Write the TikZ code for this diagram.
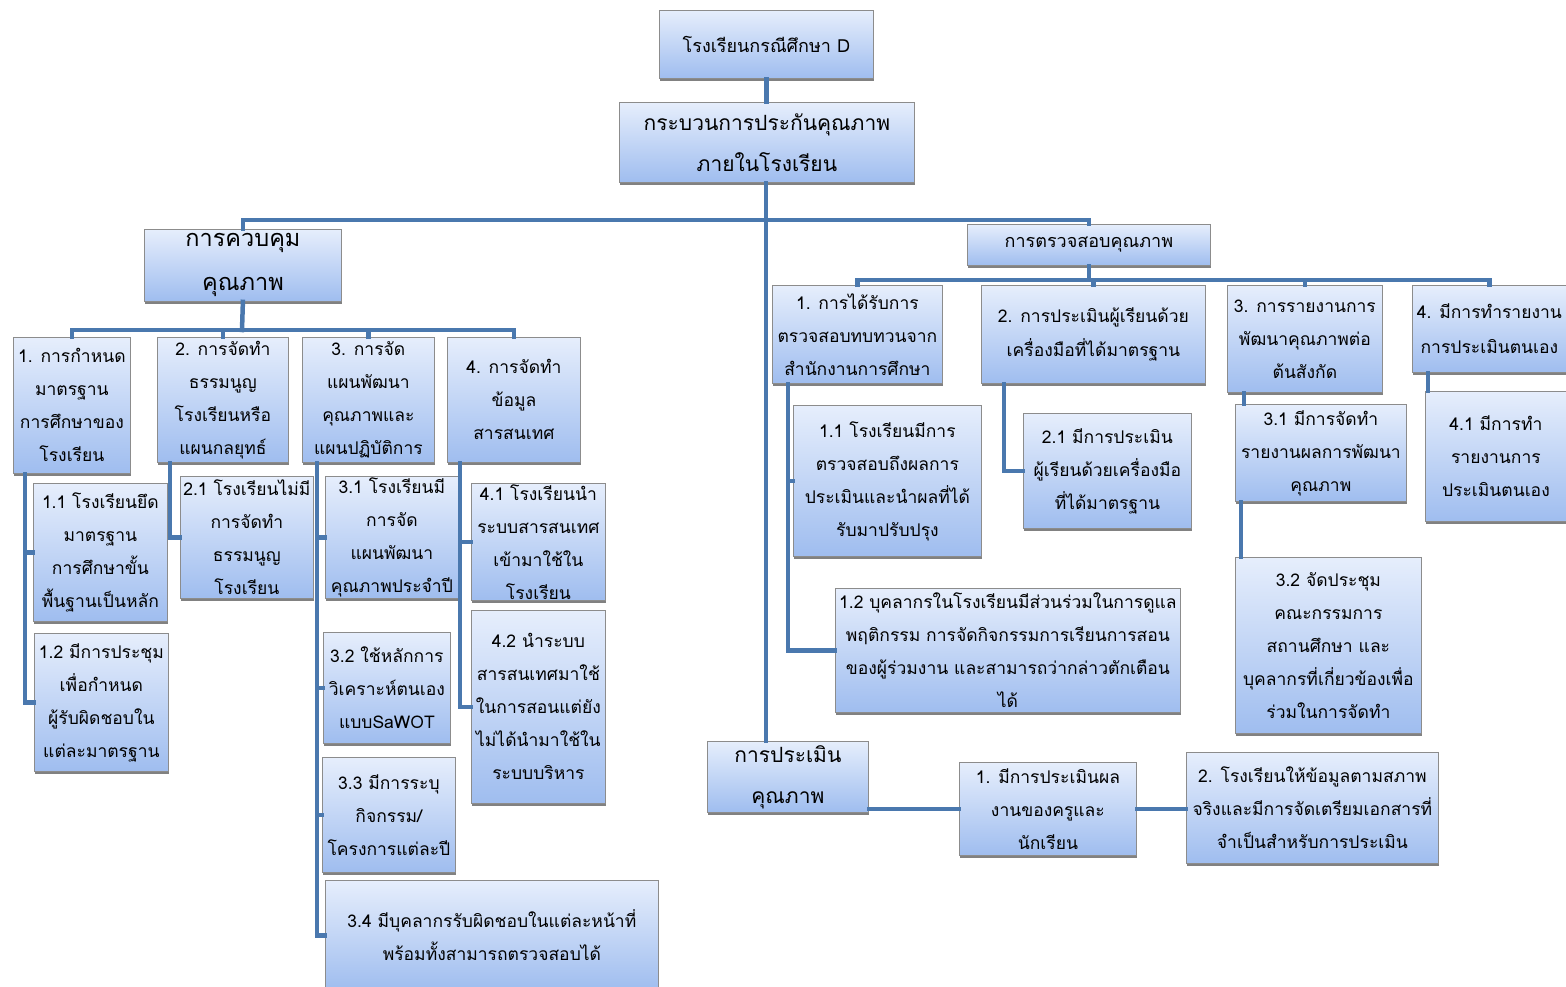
\documentclass[tikz,border=0pt]{standalone}
\usepackage{fontspec}
\setmainfont{Loma}[Script=Thai]
\usetikzlibrary{shadows}
\definecolor{boxtop}{HTML}{E6EEFC}
\definecolor{boxbot}{HTML}{9FBDEF}
\definecolor{boxline}{HTML}{8C8C8C}
\definecolor{connc}{HTML}{4A78AE}
\tikzset{
  box/.style={anchor=north west, draw=boxline, line width=0.8pt, top color=boxtop, bottom color=boxbot,
    inner sep=0pt, align=center, font=\fontsize{17.5}{33}\selectfont,
    drop shadow={shadow xshift=0.8pt, shadow yshift=-2.4pt, fill=black!70, opacity=0.7}},
  bigbox/.style={box, font=\fontsize{21}{41}\selectfont},
  conn/.style={draw=connc, line width=4.5pt, line cap=rect}
}
\begin{document}
\begin{tikzpicture}[x=1pt,y=-1pt]
\useasboundingbox (0,0) rectangle (1566,987);
% top
\node[box, font=\fontsize{18}{33}\selectfont, minimum width=214, minimum height=68] (top) at (659,10) {โรงเรียนกรณีศึกษา D};
\node[bigbox, minimum width=295, minimum height=80] (proc) at (619,102) {กระบวนการประกันคุณภาพ\\ภายในโรงเรียน};
\node[bigbox, font=\fontsize{23.5}{44}\selectfont, minimum width=197, minimum height=72] (ctrl) at (144,229) {การควบคุม\\คุณภาพ};
\node[box, font=\fontsize{18}{33}\selectfont, minimum width=243, minimum height=41] (chk) at (967,224) {การตรวจสอบคุณภาพ};
\node[bigbox, minimum width=161, minimum height=71] (asm) at (707,741) {การประเมิน\\คุณภาพ};
% left level
\node[box, minimum width=117, minimum height=136] (L1) at (13,337) {1. การกำหนด\\มาตรฐาน\\การศึกษาของ\\โรงเรียน};
\node[box, minimum width=131, minimum height=125] (L2) at (157,337) {2. การจัดทำ\\ธรรมนูญ\\โรงเรียนหรือ\\แผนกลยุทธ์};
\node[box, minimum width=132, minimum height=125] (L3) at (302,337) {3. การจัด\\แผนพัฒนา\\คุณภาพและ\\แผนปฏิบัติการ};
\node[box, minimum width=133, minimum height=125] (L4) at (447,337) {4. การจัดทำ\\ข้อมูล\\สารสนเทศ};
% left sub
\node[box, minimum width=134, minimum height=138] (s11) at (33,483) {1.1 โรงเรียนยึด\\มาตรฐาน\\การศึกษาขั้น\\พื้นฐานเป็นหลัก};
\node[box, minimum width=134, minimum height=138] (s12) at (34,633) {1.2 มีการประชุม\\เพื่อกำหนด\\ผู้รับผิดชอบใน\\แต่ละมาตรฐาน};
\node[box, minimum width=133, minimum height=122] (s21) at (180,476) {2.1 โรงเรียนไม่มี\\การจัดทำ\\ธรรมนูญ\\โรงเรียน};
\node[box, minimum width=133, minimum height=122] (s31) at (325,476) {3.1 โรงเรียนมี\\การจัด\\แผนพัฒนา\\คุณภาพประจำปี};
\node[box, minimum width=127, minimum height=111] (s32) at (323,632) {3.2 ใช้หลักการ\\วิเคราะห์ตนเอง\\แบบSaWOT};
\node[box, minimum width=133, minimum height=115] (s33) at (322,757) {3.3 มีการระบุ\\กิจกรรม/\\โครงการแต่ละปี};
\node[box, minimum width=333, minimum height=110] (s34) at (325,880) {3.4 มีบุคลากรรับผิดชอบในแต่ละหน้าที่\\พร้อมทั้งสามารถตรวจสอบได้};
\node[box, minimum width=134, minimum height=117] (s41) at (471,483) {4.1 โรงเรียนนำ\\ระบบสารสนเทศ\\เข้ามาใช้ใน\\โรงเรียน};
\node[box, minimum width=134, minimum height=193] (s42) at (471,610) {4.2 นำระบบ\\สารสนเทศมาใช้\\ในการสอนแต่ยัง\\ไม่ได้นำมาใช้ใน\\ระบบบริหาร};
% right level
\node[box, minimum width=170, minimum height=98] (R1) at (772,285) {1. การได้รับการ\\ตรวจสอบทบทวนจาก\\สำนักงานการศึกษา};
\node[box, font=\fontsize{17.5}{34}\selectfont, minimum width=224, minimum height=98] (R2) at (981,285) {2. การประเมินผู้เรียนด้วย\\เครื่องมือที่ได้มาตรฐาน};
\node[box, minimum width=155, minimum height=107] (R3) at (1227,285) {3. การรายงานการ\\พัฒนาคุณภาพต่อ\\ต้นสังกัด};
\node[box, font=\fontsize{17.5}{35}\selectfont, minimum width=154, minimum height=87] (R4) at (1412,285) {4. มีการทำรายงาน\\การประเมินตนเอง};
% right sub
\node[box, minimum width=188, minimum height=151] (r11) at (793,405) {1.1 โรงเรียนมีการ\\ตรวจสอบถึงผลการ\\ประเมินและนำผลที่ได้\\รับมาปรับปรุง};
\node[box, minimum width=345, minimum height=124] (r12) at (835,588) {1.2 บุคลากรในโรงเรียนมีส่วนร่วมในการดูแล\\พฤติกรรม การจัดกิจกรรมการเรียนการสอน\\ของผู้ร่วมงาน และสามารถว่ากล่าวตักเตือน\\ได้};
\node[box, minimum width=168, minimum height=115] (r21) at (1023,413) {2.1 มีการประเมิน\\ผู้เรียนด้วยเครื่องมือ\\ที่ได้มาตรฐาน};
\node[box, minimum width=171, minimum height=97] (r31) at (1235,404) {3.1 มีการจัดทำ\\รายงานผลการพัฒนา\\คุณภาพ};
\node[box, minimum width=186, minimum height=176] (r32) at (1235,557) {3.2 จัดประชุม\\คณะกรรมการ\\สถานศึกษา และ\\บุคลากรที่เกี่ยวข้องเพื่อ\\ร่วมในการจัดทำ};
\node[box, minimum width=141, minimum height=130] (r41) at (1425,391) {4.1 มีการทำ\\รายงานการ\\ประเมินตนเอง};
% assessment
\node[box, minimum width=177, minimum height=93] (a1) at (959,762) {1. มีการประเมินผล\\งานของครูและ\\นักเรียน};
\node[box, minimum width=252, minimum height=111] (a2) at (1186,752) {2. โรงเรียนให้ข้อมูลตามสภาพ\\จริงและมีการจัดเตรียมเอกสารที่\\จำเป็นสำหรับการประเมิน};
% ---- connectors ----
\coordinate (trunk) at (766,220);
\coordinate (busL) at (242,330);
\coordinate (busR) at (1088,280);
\draw[conn] (top.south) -- (proc.north -| top.south);
\draw[conn] (proc.south -| trunk) -- (trunk);
\draw[conn] (ctrl.north) |- (trunk) -| (chk.north);
\draw[conn] (trunk) -- (asm.north -| trunk);
% left
\draw[conn] (ctrl.south) -- (busL);
\draw[conn] (L1.north) |- (busL) -| (L4.north);
\draw[conn] (L2.north) -- (L2.north |- busL);
\draw[conn] (L3.north) -- (L3.north |- busL);
\coordinate (v1) at ([xshift=12pt]L1.south west);
\draw[conn] (v1) |- (s12.west);
\draw[conn] (v1 |- s11.west) -- (s11.west);
\coordinate (v2) at ([xshift=13pt]L2.south west);
\draw[conn] (v2) |- (s21.west);
\coordinate (v3) at ([xshift=15pt]L3.south west);
\draw[conn] (v3) |- (s34.west);
\draw[conn] (v3 |- s31.west) -- (s31.west);
\draw[conn] (v3 |- s32.west) -- (s32.west);
\draw[conn] (v3 |- s33.west) -- (s33.west);
\coordinate (v4) at ([xshift=13pt]L4.south west);
\draw[conn] (v4) |- (s42.west);
\draw[conn] (v4 |- s41.west) -- (s41.west);
% right
\draw[conn] (chk.south) -- (chk.south |- busR);
\draw[conn] (R1.north) |- (busR) -| (R4.north);
\draw[conn] (R2.north) -- (R2.north |- busR);
\draw[conn] (R3.north) -- (R3.north |- busR);
\coordinate (w1) at ([xshift=16pt]R1.south west);
\draw[conn] (w1) |- (r12.west);
\draw[conn] (w1 |- r11.west) -- (r11.west);
\coordinate (w2) at ([xshift=23pt]R2.south west);
\draw[conn] (w2) |- (r21.west);
\coordinate (w3) at ([xshift=17pt]R3.south west);
\draw[conn] (w3) -- (w3 |- r31.north);
\coordinate (w3b) at ([xshift=6pt]r31.south west);
\draw[conn] (w3b) -- (w3b |- r32.north);
\coordinate (w4) at ([xshift=16pt]R4.south west);
\draw[conn] (w4) -- (w4 |- r41.north);
% assessment
\draw[conn] (a1.west -| asm.east) -- (a1.west);
\draw[conn] (a1.east) -- (a2.west |- a1.east);
\end{tikzpicture}
\end{document}
